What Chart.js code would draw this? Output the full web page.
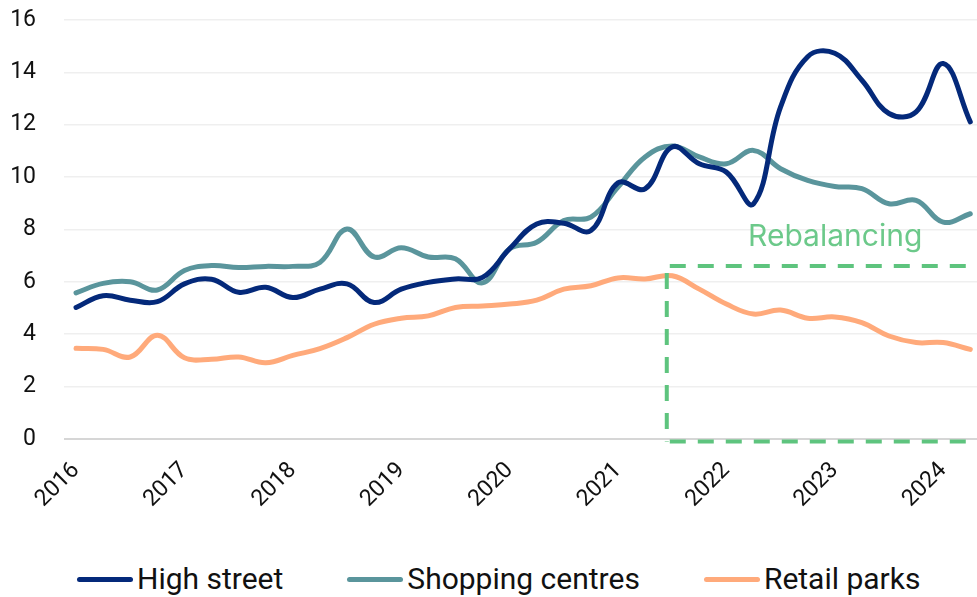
<!DOCTYPE html>
<html>
<head>
<meta charset="utf-8">
<script src="https://cdn.jsdelivr.net/npm/chart.js@4.4.1/dist/chart.umd.min.js"></script>
<style>
  html, body { margin: 0; padding: 0; background: #fff; }
  #wrap { position: relative; width: 977px; height: 597px; overflow: hidden; }
  #chart { position: absolute; left: 0; top: 0; }
  .legend { position: absolute; left: 77px; top: 562px; display: flex; gap: 64px;
            font-family: Roboto, sans-serif; font-size: 30px; line-height: 34px; color: #111; }
  .legend-item { display: flex; align-items: center; white-space: nowrap; }
  .legend-line { width: 56px; height: 5px; border-radius: 3px; margin-right: 4px; }
</style>
</head>
<body>
<div id="wrap">
  <canvas id="chart" width="977" height="530"></canvas>
  <div class="legend"></div>
</div>
<script>
// quarterly observations, 2016 Q1 .. 2024 Q2
const quarters = [
  '2016 Q1', '2016 Q2', '2016 Q3', '2016 Q4',
  '2017 Q1', '2017 Q2', '2017 Q3', '2017 Q4',
  '2018 Q1', '2018 Q2', '2018 Q3', '2018 Q4',
  '2019 Q1', '2019 Q2', '2019 Q3', '2019 Q4',
  '2020 Q1', '2020 Q2', '2020 Q3', '2020 Q4',
  '2021 Q1', '2021 Q2', '2021 Q3', '2021 Q4',
  '2022 Q1', '2022 Q2', '2022 Q3', '2022 Q4',
  '2023 Q1', '2023 Q2', '2023 Q3', '2023 Q4',
  '2024 Q1', '2024 Q2'
];
const highStreet = [5.02, 5.47, 5.30, 5.24, 5.92, 6.10, 5.60, 5.79, 5.40, 5.72, 5.92, 5.21, 5.72, 5.98, 6.11, 6.17, 7.26, 8.21, 8.24, 7.96, 9.78, 9.55, 11.15, 10.51, 10.19, 8.98, 12.68, 14.60, 14.73, 13.70, 12.43, 12.49, 14.34, 12.11];
const shoppingCentres = [5.58, 5.94, 6.00, 5.69, 6.43, 6.62, 6.55, 6.59, 6.59, 6.74, 8.02, 6.95, 7.30, 6.95, 6.88, 5.96, 7.26, 7.51, 8.34, 8.47, 9.62, 10.77, 11.19, 10.77, 10.51, 11.02, 10.32, 9.87, 9.64, 9.56, 8.98, 9.11, 8.28, 8.60];
const retailParks = [3.46, 3.42, 3.13, 3.96, 3.10, 3.04, 3.13, 2.91, 3.19, 3.45, 3.87, 4.38, 4.61, 4.70, 5.02, 5.08, 5.15, 5.30, 5.72, 5.85, 6.15, 6.11, 6.23, 5.72, 5.15, 4.77, 4.92, 4.61, 4.66, 4.44, 3.93, 3.68, 3.68, 3.42];
const seriesNames = ['High street', 'Shopping centres', 'Retail parks'];
const seriesColors = ['#04297a', '#5a959c', '#ffaa7b'];
const yTicks = [0, 2, 4, 6, 8, 10, 12, 14, 16];

// "Rebalancing" box, in axis units
const boxStart = 2021.45;
const boxTop = 6.6;
const boxBottom = -0.1;
const boxLabel = 'Rebalancing';
const boxLabelAt = [2022.2, 7.38];
const green = '#5ec47e';

const toX = q => {
  const [yr, qq] = q.split(' Q');
  return Number(yr) + (Number(qq) - 1) / 4;
};
const points = vals => vals.map((v, i) => ({ x: toX(quarters[i]), y: v }));

const rebalancePlugin = {
  id: 'rebalance',
  afterDatasetsDraw(chart) {
    const { ctx, scales: { x, y } } = chart;
    const left = x.getPixelForValue(boxStart);
    const top = y.getPixelForValue(boxTop);
    const bottom = y.getPixelForValue(boxBottom);
    ctx.save();
    ctx.strokeStyle = green;
    ctx.lineWidth = 4;
    ctx.setLineDash([16, 12]);
    ctx.beginPath(); ctx.moveTo(left + 3, top); ctx.lineTo(chart.width - 8, top); ctx.stroke();
    ctx.beginPath(); ctx.moveTo(left, top + 7); ctx.lineTo(left, bottom); ctx.stroke();
    ctx.beginPath(); ctx.moveTo(left + 3, bottom); ctx.lineTo(chart.width, bottom); ctx.stroke();
    ctx.setLineDash([]);
    ctx.fillStyle = '#6cc98a';
    ctx.font = '30px Inter, Roboto, sans-serif';
    ctx.textBaseline = 'alphabetic';
    ctx.fillText(boxLabel, x.getPixelForValue(boxLabelAt[0]), y.getPixelForValue(boxLabelAt[1]));
    ctx.restore();
  }
};

const datasets = [highStreet, shoppingCentres, retailParks].map((vals, i) => ({
  label: seriesNames[i],
  data: points(vals),
  borderColor: seriesColors[i],
  backgroundColor: seriesColors[i],
  borderWidth: 5,
  pointRadius: 0,
  tension: 0.4,
  borderCapStyle: 'round',
  borderJoinStyle: 'round'
}));

const tickFont = { family: 'Roboto, sans-serif', size: 23 };

const chart = new Chart(document.getElementById('chart'), {
  type: 'line',
  data: { datasets },
  options: {
    responsive: false,
    animation: false,
    layout: { padding: { left: 10, right: 0, top: 20, bottom: 7 } },
    plugins: { legend: { display: false }, tooltip: { enabled: false } },
    scales: {
      x: {
        type: 'linear',
        min: 2015.889,
        max: 2024.312,
        grid: { display: false },
        border: { display: false },
        afterFit: axis => { axis.paddingLeft = 0; axis.paddingRight = 0; },
        ticks: {
          stepSize: 1,
          includeBounds: false,
          minRotation: 45,
          maxRotation: 45,
          padding: 10,
          color: '#111',
          font: tickFont,
          callback: v => String(v)
        }
      },
      y: {
        min: 0,
        max: 16,
        border: { display: false },
        grid: {
          drawTicks: false,
          color: c => c.tick.value === 0 ? '#d6d6d6' : '#efefef',
          lineWidth: c => c.tick.value === 0 ? 2 : 1.5
        },
        afterBuildTicks: axis => { axis.ticks = yTicks.map(v => ({ value: v })); },
        afterFit: axis => { axis.width = 54; axis.paddingTop = 0; axis.paddingBottom = 0; },
        ticks: { padding: 28, color: '#111', font: tickFont }
      }
    }
  },
  plugins: [rebalancePlugin]
});

const legendContainer = document.querySelector('.legend');
legendContainer.innerHTML = seriesNames.map((name, i) => `
  <div class="legend-item">
    <span class="legend-line" style="background-color: ${seriesColors[i]};"></span>
    <span class="legend-label">${name}</span>
  </div>`).join('');
</script>
</body>
</html>
